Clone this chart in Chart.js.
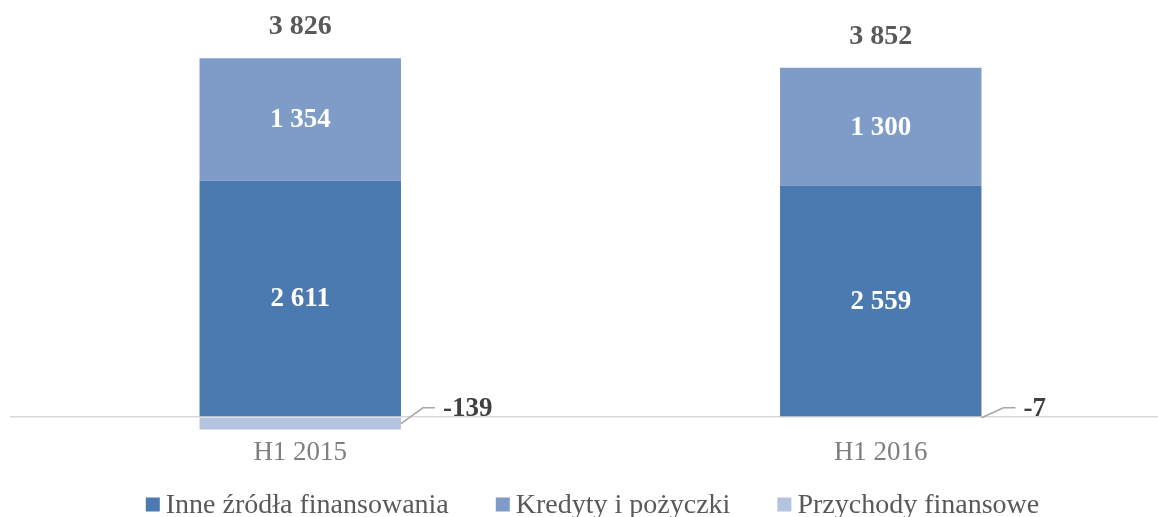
<!DOCTYPE html>
<html>
<head>
<meta charset="utf-8">
<script src="https://cdn.jsdelivr.net/npm/chart.js@4"></script>
<style>
  html, body { margin: 0; padding: 0; background: #fff; overflow: hidden; }
  #wrap { width: 1171px; height: 517px; }
</style>
</head>
<body>
<div id="wrap"><canvas id="myChart"></canvas></div>
<script>
const categories = ['H1 2015', 'H1 2016'];
const inneZrodla = [2611, 2559];
const kredyty = [1354, 1300];
const przychody = [-139, -7];
const totals = [3826, 3852];
const seriesNames = ['Inne źródła finansowania', 'Kredyty i pożyczki', 'Przychody finansowe'];
const colors = ['#4a7ab0', '#7f9cc8', '#b4c4e0'];

const serif = "'Liberation Serif', 'Times New Roman', serif";

function fmt(v) {
    // polish thousands separator (space)
    let s = Math.abs(v).toString().replace(/\B(?=(\d{3})+(?!\d))/g, ' ');
    return (v < 0 ? '-' : '') + s;
}

const labelsPlugin = {
    id: 'labelsPlugin',
    afterDatasetsDraw(chart) {
        const ctx = chart.ctx;
        ctx.save();
        ctx.textAlign = 'center';
        ctx.textBaseline = 'middle';

        // white labels inside positive segments
        ctx.font = 'bold 27px ' + serif;
        ctx.fillStyle = '#ffffff';
        [0, 1].forEach(function (d) {
            const meta = chart.getDatasetMeta(d);
            meta.data.forEach(function (bar, i) {
                const v = chart.data.datasets[d].data[i];
                ctx.fillText(fmt(v), bar.x, (bar.y + bar.base) / 2 + 1);
            });
        });

        // totals above the bars
        const top = chart.getDatasetMeta(1);
        ctx.font = 'bold 28px ' + serif;
        ctx.fillStyle = '#595959';
        top.data.forEach(function (bar, i) {
            ctx.fillText(fmt(totals[i]), bar.x, bar.y - 31);
        });

        // negative values with leader lines
        const neg = chart.getDatasetMeta(2);
        ctx.font = 'bold 27px ' + serif;
        ctx.textAlign = 'left';
        neg.data.forEach(function (bar, i) {
            const right = bar.x + bar.width / 2;
            const midY = (bar.y + bar.base) / 2;
            const ly = bar.base - 10;
            ctx.strokeStyle = '#a6a6a6';
            ctx.lineWidth = 1.5;
            ctx.beginPath();
            ctx.moveTo(right, midY);
            ctx.lineTo(right + 22, ly);
            ctx.lineTo(right + 34, ly);
            ctx.stroke();
            ctx.fillStyle = '#404040';
            ctx.fillText(fmt(przychody[i]), right + 42, ly + 1);
        });

        // legend
        ctx.font = '28px ' + serif;
        ctx.textBaseline = 'alphabetic';
        const box = 14, gap = 6, between = 47;
        const widths = chart.data.datasets.map(function (ds) {
            return box + gap + ctx.measureText(ds.label).width;
        });
        const total = widths.reduce(function (a, b) { return a + b; }, 0) + between * (widths.length - 1);
        let x = (chart.chartArea.left + chart.chartArea.right) / 2 + 2 - total / 2;
        chart.data.datasets.forEach(function (ds, i) {
            ctx.fillStyle = ds.backgroundColor;
            ctx.fillRect(x, 497.5, box, box);
            ctx.fillStyle = '#595959';
            ctx.fillText(ds.label, x + box + gap, 513);
            x += widths[i] + between;
        });
        ctx.restore();
    }
};

const ctx = document.getElementById('myChart').getContext('2d');
const myChart = new Chart(ctx, {
    type: 'bar',
    data: {
        labels: categories,
        datasets: [
            { label: seriesNames[0], data: inneZrodla, backgroundColor: colors[0] },
            { label: seriesNames[1], data: kredyty, backgroundColor: colors[1] },
            { label: seriesNames[2], data: przychody, backgroundColor: colors[2] }
        ]
    },
    options: {
        responsive: true,
        maintainAspectRatio: false,
        animation: false,
        datasets: {
            bar: { categoryPercentage: 1, barPercentage: 0.347 }
        },
        layout: { padding: { left: 10, right: 0, top: 55, bottom: 42 } },
        plugins: {
            tooltip: { enabled: false },
            legend: { display: false }
        },
        scales: {
            x: {
                stacked: true,
                grid: { display: false, drawTicks: false },
                border: { display: false },
                ticks: { color: '#7f7f7f', padding: 6, font: { family: serif, size: 27 } }
            },
            y: {
                stacked: true,
                min: -150,
                max: 4000,
                ticks: { display: false, stepSize: 50 },
                border: { display: false },
                grid: {
                    drawTicks: false,
                    lineWidth: 1.5,
                    color: function (c) { return c.tick && c.tick.value === 0 ? '#d9d9d9' : 'rgba(0,0,0,0)'; }
                }
            }
        }
    },
    plugins: [labelsPlugin]
});
</script>
</body>
</html>
